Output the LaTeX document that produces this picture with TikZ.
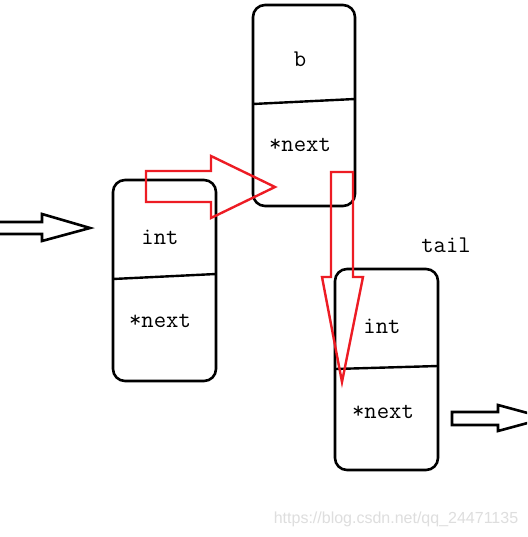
\documentclass[tikz,border=0pt]{standalone}
\usepackage{fontspec}
\setsansfont{Liberation Sans}
\usepackage{tikz}
\definecolor{paintRed}{HTML}{ED1C24}
\definecolor{paintInk}{HTML}{000000}
\definecolor{markGray}{HTML}{DEDEDE}

\begin{document}
\begin{tikzpicture}[x=1pt,y=-1pt]
  \clip (0,0) rectangle (527,537);
  \fill[white] (0,0) rectangle (527,537);

  % the three list cells
  \draw[paintInk, line width=2.6pt, rounded corners=12pt] (113,180) rectangle (216,381);
  \draw[paintInk, line width=2.4pt] (113,279) -- (216,274);
  \draw[paintInk, line width=2.6pt, rounded corners=12pt] (253,5) rectangle (355,206);
  \draw[paintInk, line width=2.4pt] (253,104) -- (355,99);
  \draw[paintInk, line width=2.6pt, rounded corners=12pt] (335,269) rectangle (438,470);
  \draw[paintInk, line width=2.4pt] (335,369) -- (438,366);

  \node[font=\ttfamily\fontsize{24}{24}\selectfont, anchor=base] (firstval) at (160,244) {int};
  \node[font=\ttfamily\fontsize{24}{24}\selectfont, anchor=base] (firstnext) at (160,327) {*next};
  \node[font=\ttfamily\fontsize{24}{24}\selectfont, anchor=base] (bval) at (300,67) {b};
  \node[font=\ttfamily\fontsize{24}{24}\selectfont, anchor=base] (bnext) at (300,152) {*next};
  \node[font=\ttfamily\fontsize{24}{24}\selectfont, anchor=base] (tailval) at (382,333) {int};
  \node[font=\ttfamily\fontsize{24}{24}\selectfont, anchor=base] (tailnext) at (383,418) {*next};
  \node[font=\ttfamily\fontsize{24}{24}\selectfont, anchor=base] (taillabel) at (446,252) {tail};

  % hollow arrows
  \draw[paintInk, line width=2.6pt, line join=miter]
    (0,222) -- (42,222) -- (42,214) -- (90,228) -- (42,241) -- (42,234) -- (0,234);
  \draw[paintInk, line width=2.6pt, line join=miter]
    (452,412) -- (498,412) -- (498,405) -- (546,418) -- (498,431) -- (498,425) -- (452,425) -- cycle;
  \draw[paintRed, line width=2.4pt, line join=miter]
    (146,171) -- (211,171) -- (211,156) -- (275,187) -- (211,218) -- (211,202) -- (146,202) -- cycle;
  \draw[paintRed, line width=2.4pt, line join=miter]
    (331,172) -- (353,172) -- (353,277) -- (363,277) -- (342,382) -- (322,277) -- (331,277) -- cycle;

  \node[font=\sffamily\fontsize{16}{16}\selectfont, text=markGray, anchor=base] (mark) at (396,523)
    {https://blog.csdn.net/qq\_24471135};
\end{tikzpicture}
\end{document}
